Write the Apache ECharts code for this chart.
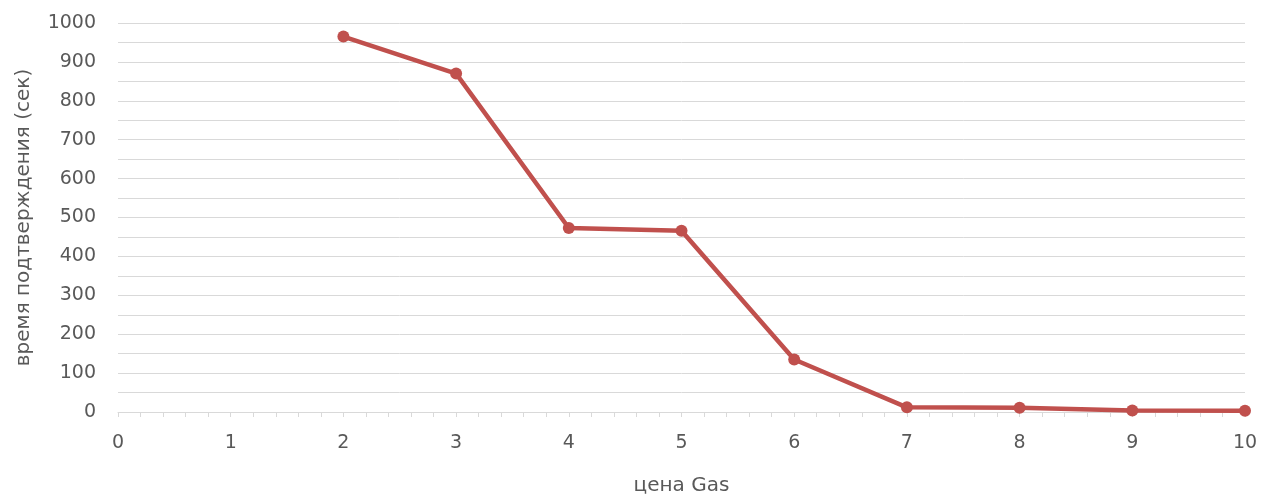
<!DOCTYPE html>
<html>
<head>
<meta charset="utf-8">
<script src="https://cdn.jsdelivr.net/npm/echarts@6/dist/echarts.min.js"></script>
<style>
  html, body { margin: 0; padding: 0; background: #fff; }
  #chart { width: 1273px; height: 496px; }
</style>
</head>
<body>
<div id="chart"></div>
<script>
// цена Gas -> время подтверждения (сек)
var gasPrice = [2, 3, 4, 5, 6, 7, 8, 9, 10];
var confirmTime = [965, 870, 473, 466, 135, 12, 11, 4, 3];

var xName = 'цена Gas';
var yName = 'время подтверждения (сек)';

var myChart = echarts.init(document.getElementById('chart'));

var points = [];
for (var i = 0; i < gasPrice.length; i++) {
    points.push([gasPrice[i], confirmTime[i]]);
}

var font = '"DejaVu Sans", sans-serif';

myChart.setOption({
    animation: false,
    grid: { left: 118, right: 28, top: 23, bottom: 84, containLabel: false, outerBoundsMode: 'none' },
    xAxis: {
        type: 'value',
        min: 0,
        max: 10,
        interval: 1,
        name: xName,
        nameLocation: 'middle',
        nameGap: 64,
        nameTextStyle: { color: '#595959', fontSize: 20, fontFamily: font },
        axisLine: { show: true, lineStyle: { color: '#d9d9d9', width: 1 } },
        axisTick: { show: true, length: 5, lineStyle: { color: '#d9d9d9' } },
        minorTick: { show: true, splitNumber: 5, length: 5, lineStyle: { color: '#d9d9d9' } },
        axisLabel: { color: '#595959', fontSize: 19, fontFamily: font, margin: 22 },
        splitLine: { show: false }
    },
    yAxis: {
        type: 'value',
        min: 0,
        max: 1000,
        interval: 100,
        name: yName,
        nameLocation: 'middle',
        nameRotate: 90,
        nameGap: 84,
        nameTextStyle: { color: '#595959', fontSize: 20, fontFamily: font },
        axisLine: { show: false },
        axisTick: { show: false },
        axisLabel: {
            color: '#595959', fontSize: 19, fontFamily: font, margin: 22,
            formatter: function (v) { return String(v); }
        },
        splitLine: { show: true, lineStyle: { color: '#d9d9d9', width: 1 } },
        minorSplitLine: { show: true, lineStyle: { color: '#d9d9d9', width: 1 } },
        minorTick: { show: false, splitNumber: 2 }
    },
    series: [{
        type: 'line',
        data: points,
        symbol: 'circle',
        symbolSize: 12,
        lineStyle: { color: '#C0504D', width: 4.5 },
        itemStyle: { color: '#C0504D' }
    }]
});

window.addEventListener('resize', function () {
    myChart.resize();
});
</script>
</body>
</html>
